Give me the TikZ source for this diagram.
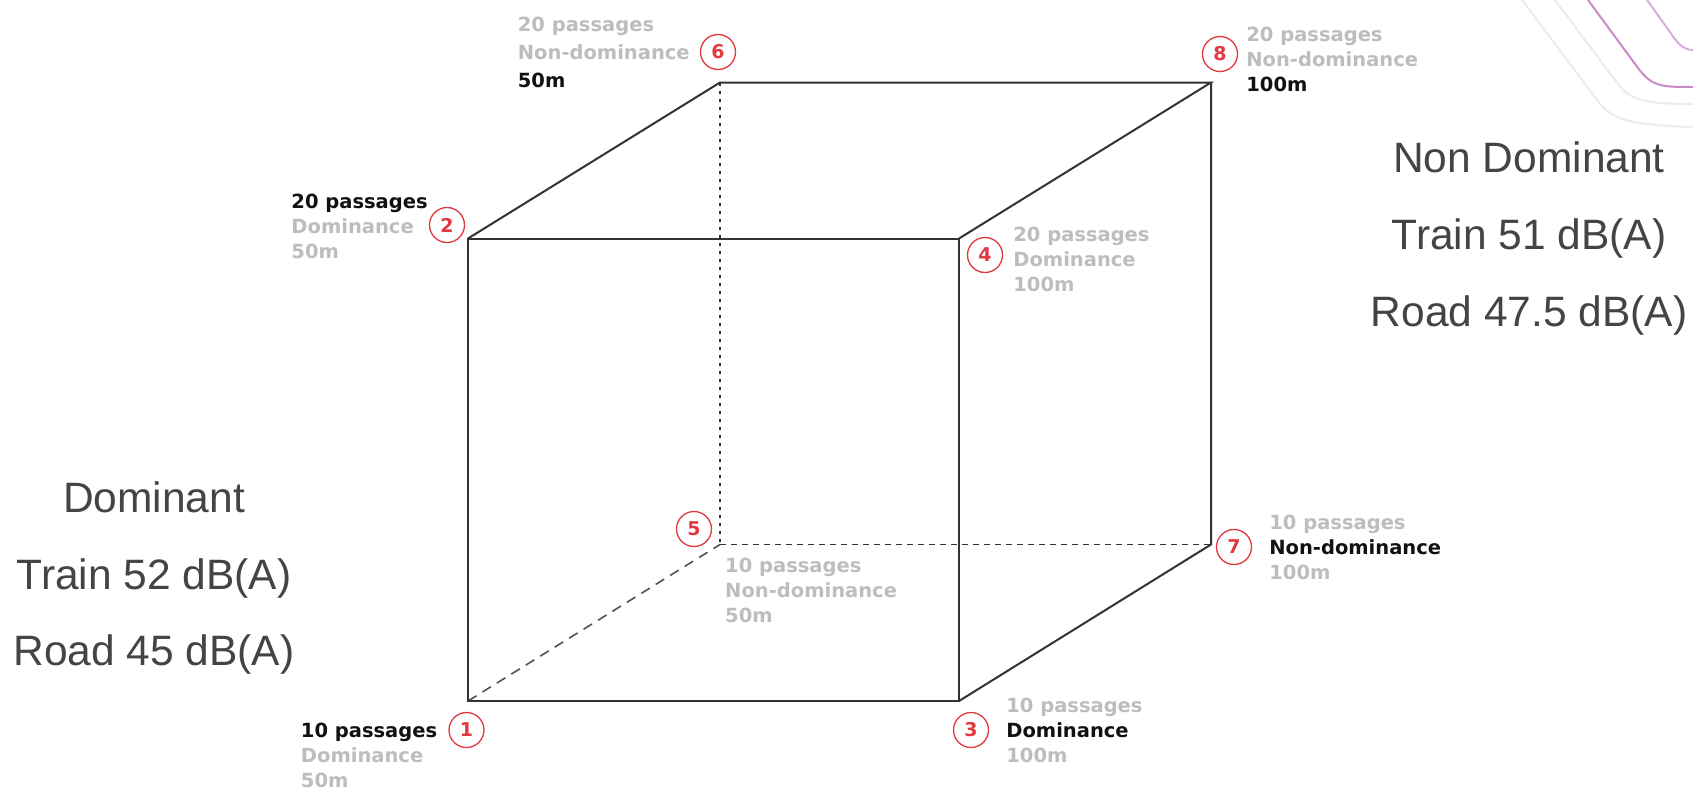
\documentclass[tikz,border=0pt]{standalone}
\usepackage{fontspec}
\setmainfont{Liberation Sans}
\newfontfamily\lblfamily{DejaVu Sans}
\usetikzlibrary{positioning}

\definecolor{lgray}{HTML}{BDBDBD}
\definecolor{ink}{HTML}{111111}
\definecolor{numred}{HTML}{E2383F}
\definecolor{edgegray}{HTML}{333333}
\definecolor{bigtext}{HTML}{444444}
\definecolor{swirl}{HTML}{C88CCB}
\definecolor{swirlfaint}{HTML}{EBEBF0}

\newcommand{\hl}[1]{\textcolor{ink}{#1}}

\begin{document}
\begin{tikzpicture}[
    x=1pt, y=-1pt,
    edgeline/.style={draw=edgegray, line width=2pt},
    hiddendot/.style={draw=edgegray, line width=2.2pt, dash pattern=on 3pt off 5pt},
    hiddendash/.style={draw=edgegray, line width=1.6pt, dash pattern=on 6pt off 5pt},
    hiddenlong/.style={draw=edgegray!85, line width=1.6pt, dash pattern=on 10pt off 7pt},
    badge/.style={circle, draw=numred, line width=1.3pt, minimum size=35pt, inner sep=0pt,
        text=numred, font=\lblfamily\bfseries\fontsize{19}{19}\selectfont},
    lbl/.style={align=left, inner sep=0pt, text=lgray,
        font=\lblfamily\bfseries\fontsize{19.5}{25}\selectfont},
    bigtxt/.style={anchor=base, inner sep=0pt, text=bigtext, font=\fontsize{42.5}{42.5}\selectfont}
]
    \fill[white] (0,0) rectangle (1693,795);
    \useasboundingbox (0,0) rectangle (1693,795);

    % Template swirl
    \draw[swirlfaint, line width=2pt] (1522,0) -- (1597,100) .. controls (1610,118) and (1625,125) .. (1693,127);
    \draw[swirlfaint, line width=2pt] (1555,0) -- (1618,84) .. controls (1630,100) and (1645,104) .. (1693,104);
    \draw[swirl, line width=2pt] (1588,0) -- (1638,68) .. controls (1652,87) and (1662,87) .. (1693,87);
    \draw[swirl!70, line width=2pt] (1647,0) -- (1670,32) .. controls (1678,45) and (1685,50) .. (1693,50);

    % Cube corners
    \coordinate (v1) at (468,701);
    \coordinate (v2) at (468,238.5);
    \coordinate (v3) at (959,701);
    \coordinate (v4) at (959,238.5);
    \coordinate (v5) at (720,544.5);
    \coordinate (v6) at (720,82.5);
    \coordinate (v7) at (1211,544.5);
    \coordinate (v8) at (1211,82.5);

    % Hidden edges
    \draw[hiddendot] (v6) -- (v5);
    \draw[hiddendash] (v5) -- (v7);
    \draw[hiddenlong] (v1) -- (v5);

    % Visible edges
    \draw[edgeline] (v1) -- (v3) -- (v4) -- (v2) -- cycle;
    \draw[edgeline] (v2) -- (v6) -- (v8) -- (v4);
    \draw[edgeline] (v8) -- (v7) -- (v3);

    % Numbered corners
    \node[badge] (c1) at (466.5,730) {1};
    \node[badge] (c2) at (447,225) {2};
    \node[badge] (c3) at (971,730) {3};
    \node[badge] (c4) at (985,255) {4};
    \node[badge] (c5) at (694,529) {5};
    \node[badge] (c6) at (718,52) {6};
    \node[badge] (c7) at (1234,547) {7};
    \node[badge] (c8) at (1220,54) {8};

    % Corner labels
    \node[lbl, left=11pt of c1, yshift=-25pt] (l1) {\hl{10 passages}\\Dominance\\50m};
    \node[lbl, left=1pt of c2, yshift=-1pt] (l2) {\hl{20 passages}\\Dominance\\50m};
    \node[lbl, right=17pt of c3] (l3) {10 passages\\\hl{Dominance}\\100m};
    \node[lbl, right=10pt of c4, yshift=-4pt] (l4) {20 passages\\Dominance\\100m};
    \node[lbl, below right=13pt and 5pt of v5] (l5) {10 passages\\Non-dominance\\50m};
    \node[lbl, left=10pt of c6, font=\lblfamily\bfseries\fontsize{19.5}{28}\selectfont] (l6) {20 passages\\Non-dominance\\\hl{50m}};
    \node[lbl, right=17pt of c7] (l7) {10 passages\\\hl{Non-dominance}\\100m};
    \node[lbl, right=8pt of c8, yshift=-5pt] (l8) {20 passages\\Non-dominance\\\hl{100m}};

    % Dominant
    \node[bigtxt] (domA) at (154,512) {Dominant};
    \node[bigtxt] (domB) at ([yshift=-77pt]domA.base) {Train 52 dB(A)};
    \node[bigtxt] (domC) at ([yshift=-76pt]domB.base) {Road 45 dB(A)};

    % Non dominant
    \node[bigtxt] (ndomA) at (1529,172) {Non Dominant};
    \node[bigtxt] (ndomB) at ([yshift=-77pt]ndomA.base) {Train 51 dB(A)};
    \node[bigtxt] (ndomC) at ([yshift=-77pt]ndomB.base) {Road 47.5 dB(A)};
\end{tikzpicture}
\end{document}
